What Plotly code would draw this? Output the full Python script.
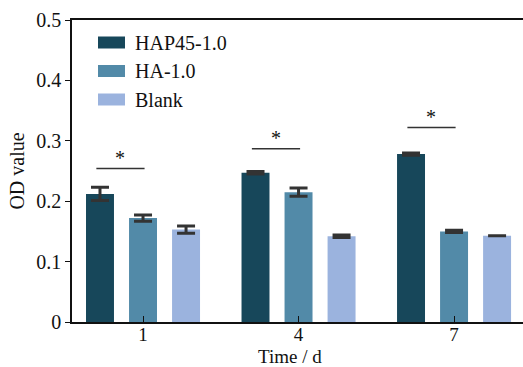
import plotly.graph_objects as go

days = [1, 4, 7]
series_names = ["HAP45-1.0", "HA-1.0", "Blank"]
hap_vals = [0.212, 0.247, 0.278]
hap_err = [0.011, 0.002, 0.002]
ha_vals = [0.172, 0.215, 0.150]
ha_err = [0.005, 0.007, 0.002]
blank_vals = [0.153, 0.142, 0.143]
blank_err = [0.006, 0.002, None]
sig_y = [0.254, 0.287, 0.322]
y_ticks = [0, 0.1, 0.2, 0.3, 0.4, 0.5]
y_tick_labels = ["0", "0.1", "0.2", "0.3", "0.4", "0.5"]

colors = ["#17475a", "#528aa8", "#9bb3de"]
FONT = "Liberation Serif"
FS = 20

fig = go.Figure()
for name, vals, err, c in zip(series_names, [hap_vals, ha_vals, blank_vals],
                              [hap_err, ha_err, blank_err], colors):
    fig.add_trace(go.Bar(
        x=days, y=vals, name=name, marker=dict(color=c, line=dict(width=0)),
        error_y=dict(type="data", array=err, visible=True, color="#333333",
                     thickness=3, width=9),
        showlegend=False))

shapes = []
annotations = []
for d, sy in zip(days, sig_y):
    shapes.append(dict(type="line", xref="x", yref="y", x0=d - 0.9, x1=d + 0.03,
                       y0=sy, y1=sy, line=dict(color="#333333", width=1.5)))
    annotations.append(dict(x=d - 0.44, y=sy, xref="x", yref="y", text="*",
                            showarrow=False, yanchor="bottom", yshift=-2,
                            font=dict(family=FONT, size=20, color="#111")))

W, H = 523, 367
pl, pr, pt, pb = 72, 0, 20, 45
pw, ph = W - pl - pr, H - pt - pb

# manual legend (swatch 27x12)
leg_y = [42.5, 71, 99.5]
for name, c, ly in zip(series_names, colors, leg_y):
    x0 = (98 - pl) / pw
    x1 = (125 - pl) / pw
    y0 = 1 - (ly - 6 - pt) / ph
    y1 = 1 - (ly + 6 - pt) / ph
    shapes.append(dict(type="rect", xref="paper", yref="paper", x0=x0, x1=x1,
                       y0=y0, y1=y1, fillcolor=c, line=dict(width=0)))
    annotations.append(dict(x=(133 - pl) / pw, y=1 - (ly - pt) / ph, xref="paper",
                            yref="paper", text=name, showarrow=False,
                            xanchor="left", yanchor="middle",
                            font=dict(family=FONT, size=FS, color="#111")))

# x-axis title as annotation
annotations.append(dict(x=(290 - pl) / pw, y=1 - (356.5 - pt) / ph, xref="paper",
                        yref="paper", text="Time / d", showarrow=False,
                        xanchor="center", yanchor="middle", borderpad=0,
                        font=dict(family=FONT, size=19, color="#111")))

fig.update_layout(
    width=W, height=H,
    margin=dict(l=pl, r=pr, t=pt, b=pb),
    paper_bgcolor="white", plot_bgcolor="white",
    barmode="group", bargap=0.17, bargroupgap=0.35,
    font=dict(family=FONT, size=FS, color="#111"),
    shapes=shapes, annotations=annotations,
    xaxis=dict(range=[-0.37, 8.33], tickvals=days, ticktext=[str(d) for d in days],
               ticks="inside", ticklen=6, tickcolor="#111", tickwidth=1.2,
               showline=True, linecolor="#111", linewidth=1.5, mirror=True,
               showgrid=False, zeroline=False, ticklabelstandoff=-6,
               tickfont=dict(size=19)),
    yaxis=dict(range=[0, 0.5], tickvals=y_ticks, ticktext=y_tick_labels,
               ticks="outside", ticklen=5, tickcolor="#111", tickwidth=1.2,
               showline=True, linecolor="#111", linewidth=1.5,
               showgrid=False, zeroline=False,
               title=dict(text="OD value", standoff=6, font=dict(size=FS)),
               tickfont=dict(size=FS)),
)

fig.write_html("out.html")
